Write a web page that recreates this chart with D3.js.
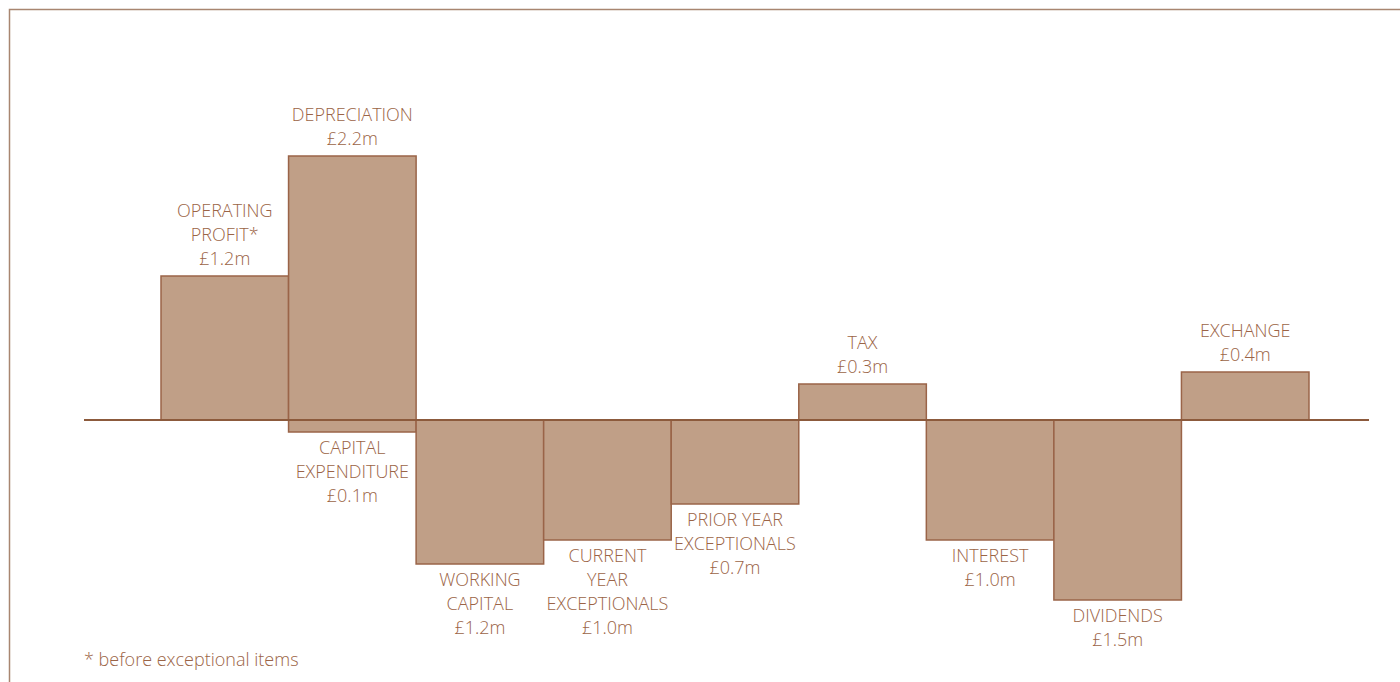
<!DOCTYPE html>
<html>
<head>
<meta charset="utf-8">
<script src="https://cdn.jsdelivr.net/npm/d3@7"></script>
<style>
  html, body { margin: 0; padding: 0; background: #fff; }
  svg { display: block; }
</style>
</head>
<body>
<div id="chart"></div>
<script>
// Cash flow items (£m), signed
const categories = [
  ["OPERATING", "PROFIT*"],
  ["DEPRECIATION"],
  ["CAPITAL", "EXPENDITURE"],
  ["WORKING", "CAPITAL"],
  ["CURRENT", "YEAR", "EXCEPTIONALS"],
  ["PRIOR YEAR", "EXCEPTIONALS"],
  ["TAX"],
  ["INTEREST"],
  ["DIVIDENDS"],
  ["EXCHANGE"]
];
const values = [1.2, 2.2, -0.1, -1.2, -1.0, -0.7, 0.3, -1.0, -1.5, 0.4];
// column each item sits in (capex shares the depreciation column)
const slots = [0, 1, 1, 2, 3, 4, 5, 6, 7, 8];
const footnote = "* before exceptional items";

const W = 1400, H = 682;
const barFill = "#c09f87", barStroke = "#9a6448", textColor = "#9b6446";
const fontFamily = "'Open Sans', 'Noto Sans', sans-serif";
const fontSize = 18, lineH = 24;

const svg = d3.select("#chart")
  .append("svg")
  .attr("width", W)
  .attr("height", H);

// frame (top + left rule)
svg.append("path")
  .attr("d", `M9.5,${H} V9.5 H${W}`)
  .attr("fill", "none")
  .attr("stroke", "#a88670")
  .attr("stroke-width", 1.5);

// Scales
const x = d3.scaleBand()
  .domain(d3.range(9))
  .range([161, 1309])
  .padding(0);

const y = d3.scaleLinear()
  .domain([-1.5, 2.2])
  .range([600, 156]);

const data = values.map((v, i) => ({ v, lines: categories[i], slot: slots[i] }));

// Bars
svg.selectAll(".bar")
  .data(data)
  .enter()
  .append("rect")
  .attr("class", "bar")
  .attr("x", d => x(d.slot))
  .attr("y", d => y(Math.max(0, d.v)))
  .attr("width", x.bandwidth())
  .attr("height", d => Math.abs(y(d.v) - y(0)))
  .attr("fill", barFill)
  .attr("stroke", barStroke)
  .attr("stroke-width", 1.5);

// Baseline
svg.append("line")
  .attr("x1", 84)
  .attr("x2", 1369)
  .attr("y1", y(0))
  .attr("y2", y(0))
  .attr("stroke", "#8c5a3c")
  .attr("stroke-width", 2);

// Labels
const fmt = v => `£${Math.abs(v).toFixed(1)}m`;

data.forEach(d => {
  const lines = [...d.lines, fmt(d.v)];
  const cx = x(d.slot) + x.bandwidth() / 2;
  let firstY;
  if (d.v > 0) {
    firstY = y(d.v) - 18 - (lines.length - 1) * lineH;
  } else {
    firstY = y(d.v) + 15;
  }
  const t = svg.append("text")
    .attr("text-anchor", "middle")
    .attr("dominant-baseline", "central")
    .style("font-family", fontFamily)
    .style("font-size", fontSize + "px")
    .style("font-weight", 300)
    .style("fill", textColor);
  lines.forEach((ln, i) => {
    t.append("tspan")
      .attr("x", cx)
      .attr("y", firstY + i * lineH)
      .text(ln);
  });
});

// Footnote
svg.append("text")
  .attr("x", 84)
  .attr("y", 659)
  .attr("dominant-baseline", "central")
  .style("font-family", fontFamily)
  .style("font-size", fontSize + "px")
  .style("font-weight", 300)
  .style("fill", textColor)
  .text(footnote);
</script>
</body>
</html>
